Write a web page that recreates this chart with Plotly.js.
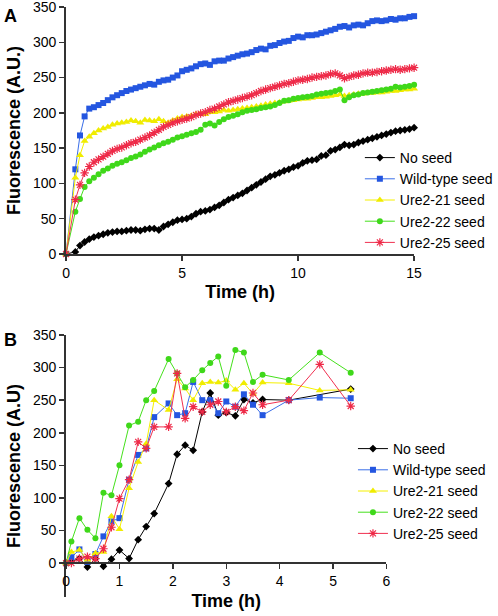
<!DOCTYPE html>
<html>
<head>
<meta charset="utf-8">
<script src="https://cdn.plot.ly/plotly-3.0.1.min.js"></script>
<style>html,body{margin:0;padding:0;background:#fff;}#chart{width:498px;height:616px;}</style>
</head>
<body>
<div id="chart"></div>
<script>
// ---------- Panel A data ----------
const timeA = [0, 0.4, 0.6, 0.8, 1.0, 1.2, 1.4, 1.6, 1.8, 2.0, 2.2, 2.4, 2.6, 2.8, 3.0, 3.2, 3.4, 3.6, 3.8, 4.0,
  4.2, 4.4, 4.6, 4.8, 5.0, 5.2, 5.4, 5.6, 5.8, 6.0, 6.2, 6.4, 6.6, 6.8, 7.0, 7.2, 7.4, 7.6, 7.8, 8.0,
  8.2, 8.4, 8.6, 8.8, 9.0, 9.2, 9.4, 9.6, 9.8, 10.0, 10.2, 10.4, 10.6, 10.8, 11.0, 11.2, 11.4, 11.6, 11.8, 12.0,
  12.2, 12.4, 12.6, 12.8, 13.0, 13.2, 13.4, 13.6, 13.8, 14.0, 14.2, 14.4, 14.6, 14.8, 15.0];
const noSeedA = [0, 3, 12, 17, 21, 24, 26, 28, 30, 31, 32, 32, 33, 34, 34, 33, 35, 36, 36, 34,
  39, 42, 45, 48, 49, 50, 53, 57, 60, 61, 63, 66, 69, 73, 77, 80, 83, 86, 90, 94,
  98, 102, 106, 110, 112, 115, 118, 120, 123, 125, 129, 132, 133, 134, 139, 140, 146, 148, 151, 155,
  154, 155, 158, 160, 162, 164, 166, 168, 170, 172, 174, 175, 176, 177, 179];
const wildTypeA = [0, 120, 168, 195, 206, 208, 211, 214, 218, 222, 225, 228, 231, 233, 235, 237, 239, 241, 240, 244,
  246, 247, 250, 253, 259, 261, 263, 266, 269, 270, 268, 273, 274, 274, 277, 279, 281, 283, 284, 286,
  289, 291, 290, 295, 296, 299, 301, 302, 306, 308, 307, 310, 310, 311, 313, 315, 317, 319, 322, 323,
  321, 324, 325, 324, 327, 330, 331, 330, 331, 333, 332, 334, 334, 336, 337];
const ure21A = [0, 108, 140, 160, 166, 171, 175, 178, 180, 183, 185, 186, 187, 189, 188, 186, 190, 189, 188, 191,
  188, 186, 189, 192, 194, 195, 196, 198, 199, 198, 201, 201, 202, 204, 203, 204, 205, 206, 207, 208,
  209, 210, 212, 213, 214, 215, 216, 217, 218, 219, 220, 220, 221, 222, 222, 223, 224, 225, 226, 224,
  225, 226, 227, 227, 228, 228, 229, 229, 230, 231, 231, 232, 233, 233, 234];
const ure22A = [0, 60, 78, 95, 103, 108, 113, 118, 121, 125, 128, 130, 133, 136, 138, 141, 145, 148, 151, 154,
  157, 159, 162, 165, 167, 169, 171, 173, 176, 183, 185, 182, 187, 191, 194, 196, 198, 201, 203, 204,
  205, 207, 208, 209, 211, 214, 217, 218, 220, 221, 222, 223, 224, 226, 227, 228, 229, 231, 233, 218,
  222, 225, 226, 228, 229, 230, 231, 232, 233, 234, 237, 236, 237, 238, 240];
const ure25A = [0, 77, 98, 115, 124, 130, 134, 138, 142, 146, 149, 151, 154, 157, 159, 162, 165, 168, 172, 176,
  180, 183, 186, 188, 190, 192, 194, 197, 199, 201, 204, 206, 209, 212, 215, 217, 219, 221, 223, 225,
  228, 231, 233, 235, 237, 239, 241, 242, 244, 246, 247, 248, 250, 251, 252, 253, 255, 256, 253, 249,
  251, 253, 254, 256, 257, 257, 258, 259, 260, 261, 262, 261, 262, 263, 264];

// ---------- Panel B data ----------
const timeB = [0, 0.1, 0.25, 0.4, 0.55, 0.7, 0.85, 1.0, 1.18, 1.35, 1.5, 1.65, 1.92, 2.08, 2.23, 2.38,
  2.55, 2.7, 2.85, 3.0, 3.17, 3.33, 3.5, 3.68, 4.17, 4.75, 5.33];
const noSeedB = [0, 3, 7, -6, 7, -5, 6, 20, 7, 36, 56, 76, 122, 167, 181, 173,
  232, 261, 227, 231, 226, 251, 246, 251, 250, null, 267];
const wildTypeB = [0, 9, 21, 2, 14, 41, 64, 69, 128, 166, 176, 224, 245, 227, 230, 278,
  250, 250, 230, 248, 240, 259, 243, 227, 250, 254, 253];
const ure21B = [0, 17, 20, 5, 15, 17, 72, 52, 115, 155, 183, 250, 235, 282, 268, 250,
  276, 278, 277, 280, 266, 276, 260, 277, 276, 265, 266];
const ure22B = [0, 33, 69, 51, 38, 108, 104, 150, 211, 217, 250, 264, 313, 291, 270, 281,
  296, 307, 317, 272, 327, 323, 278, 289, 281, 323, 292];
const ure25B = [0, 0, 7, 10, 7, 22, 55, 99, 128, 186, 176, 209, 209, 291, 222, 240,
  232, 243, 248, 232, 240, 234, 261, 243, 250, 305, 241];

// ---------- Labels / styles ----------
const seriesNames = ["No seed", "Wild-type seed", "Ure2-21 seed", "Ure2-22 seed", "Ure2-25 seed"];
const lineColors = ["#000000", "#3a6ee8", "#f5f000", "#45e01c", "#f03050"];
const markerColors = ["#000000", "#2456e0", "#f0ec00", "#3fd81a", "#ee2a48"];
const symbols = ["diamond", "square", "triangle-up", "circle", "asterisk-open"];
const ticksA_y = [0, 50, 100, 150, 200, 250, 300, 350];
const ticksA_x = [0, 5, 10, 15];
const ticksB_x = [0, 1, 2, 3, 4, 5, 6];

const W = 498, H = 616;
const px = v => v / W;
const py = v => 1 - v / H;

const dataA = [noSeedA, wildTypeA, ure21A, ure22A, ure25A];
const dataB = [noSeedB, wildTypeB, ure21B, ure22B, ure25B];
const sizesA = [6, 6, 7, 6, 7];
const sizesB = [6, 6, 7, 6, 7];

const traces = [];
dataA.forEach((ys, i) => {
  traces.push({
    x: timeA, y: ys, type: "scatter", mode: "lines+markers", name: seriesNames[i],
    xaxis: "x", yaxis: "y", legend: "legend",
    line: {color: lineColors[i], width: 1},
    marker: {symbol: symbols[i], size: sizesA[i], color: markerColors[i],
             line: {color: markerColors[i], width: symbols[i] === "asterisk-open" ? 1.2 : 0}},
    cliponaxis: false
  });
});
dataB.forEach((ys, i) => {
  traces.push({
    x: timeB, y: ys, type: "scatter", mode: "lines+markers", name: seriesNames[i],
    xaxis: "x2", yaxis: "y2", legend: "legend2", connectgaps: true,
    line: {color: lineColors[i], width: 1},
    marker: {symbol: symbols[i], size: sizesB[i], color: markerColors[i],
             line: {color: markerColors[i], width: symbols[i] === "asterisk-open" ? 1.2 : 0}},
    cliponaxis: false
  });
});

const axisFont = {family: "Liberation Sans, Arial, sans-serif", size: 14, color: "#000"};
const titleFont = {family: "Liberation Sans, Arial, sans-serif", size: 18, color: "#000", weight: "bold"};
const baseAxis = {
  showgrid: false, zeroline: false, showline: true, linecolor: "#333", linewidth: 2,
  ticks: "outside", ticklen: 5, tickwidth: 1.5, tickcolor: "#333", tickfont: axisFont,
  automargin: false, fixedrange: true, ticklabeloverflow: "allow"
};

const legendFont = {family: "Liberation Sans, Arial, sans-serif", size: 14, color: "#000"};

const layout = {
  width: W, height: H,
  margin: {l: 0, r: 0, t: 0, b: 0},
  paper_bgcolor: "#fff", plot_bgcolor: "#fff",
  font: {family: "Liberation Sans, Arial, sans-serif", color: "#000"},
  xaxis: Object.assign({}, baseAxis, {
    domain: [px(67), px(420)], range: [0, 15], tickvals: ticksA_x, anchor: "y",
    title: {text: "Time (h)", font: titleFont, standoff: 6}
  }),
  yaxis: Object.assign({}, baseAxis, {
    domain: [py(254), py(7)], range: [0, 350], tickvals: ticksA_y, anchor: "x",
    title: {text: "Fluorescence (A.U.)", font: titleFont, standoff: 8}
  }),
  xaxis2: Object.assign({}, baseAxis, {
    domain: [px(67), px(392)], range: [0, 6], tickvals: ticksB_x, anchor: "free",
    position: py(563),
    title: {text: "Time (h)", font: titleFont, standoff: 6}
  }),
  yaxis2: Object.assign({}, baseAxis, {
    domain: [py(597), py(335)], range: [-52, 350], tickvals: ticksA_y, anchor: "x2",
    title: {text: "Fluorescence (A.U)", font: titleFont, standoff: 8}
  }),
  legend: {
    x: px(365), xanchor: "left", y: py(142), yanchor: "top",
    font: legendFont, bgcolor: "rgba(0,0,0,0)", borderwidth: 0, tracegroupgap: 0,
    itemclick: false, itemdoubleclick: false
  },
  legend2: {
    x: px(358), xanchor: "left", y: py(433), yanchor: "top",
    font: legendFont, bgcolor: "rgba(0,0,0,0)", borderwidth: 0, tracegroupgap: 0,
    itemclick: false, itemdoubleclick: false
  },
  annotations: [
    {text: "<b>A</b>", x: px(2), y: py(4), xref: "paper", yref: "paper", xanchor: "left", yanchor: "top",
     showarrow: false, font: {family: "Liberation Sans, Arial, sans-serif", size: 18, color: "#000"}},
    {text: "<b>B</b>", x: px(2), y: py(328), xref: "paper", yref: "paper", xanchor: "left", yanchor: "top",
     showarrow: false, font: {family: "Liberation Sans, Arial, sans-serif", size: 18, color: "#000"}}
  ],
  showlegend: true
};

Plotly.newPlot("chart", traces, layout, {staticPlot: true, displayModeBar: false});
</script>
</body>
</html>
